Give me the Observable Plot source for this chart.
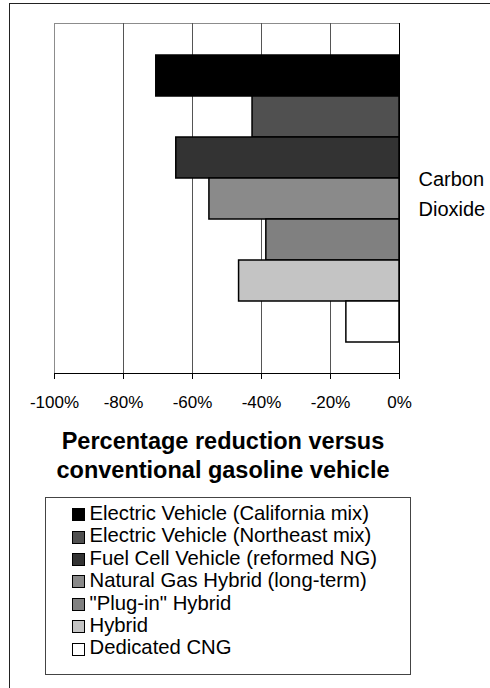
<!DOCTYPE html>
<html>
<head>
<meta charset="utf-8">
<script src="https://cdn.jsdelivr.net/npm/d3@7"></script>
<script src="https://cdn.jsdelivr.net/npm/@observablehq/plot@0.6"></script>
<style>
  html, body { margin: 0; padding: 0; background: #fff; overflow: hidden; width: 490px; height: 688px; }
  body { position: relative; font-family: "Liberation Sans", Arial, sans-serif; color: #000; }
  #outer { position: absolute; left: 9px; top: 3px; width: 520px; height: 720px; border-left: 1.5px solid #222; border-top: 1.5px solid #222; }
  #chart { position: absolute; left: 0; top: 0; }
  #title { position: absolute; left: 54px; width: 338px; top: 427px; text-align: center; font-weight: bold; font-size: 23.5px; line-height: 28.5px; }
  #legend { position: absolute; left: 45px; top: 497px; width: 364px; height: 172px; border: 1px solid #444; padding-top: 4px; box-sizing: content-box; }
  .row { display: flex; align-items: center; height: 22.4px; font-size: 20.3px; line-height: 22.4px; white-space: nowrap; }
  .sw { width: 11px; height: 11px; border: 1.5px solid #000; margin-left: 25.5px; margin-right: 5px; margin-top: 3px; flex: none; }
</style>
</head>
<body>
<div id="outer"></div>
<div id="chart"></div>
<div id="title">Percentage reduction versus<br>conventional gasoline vehicle</div>
<div id="legend"></div>
<script>
const category = "Carbon\nDioxide";
const vehicles = [
  "Electric Vehicle (California mix)",
  "Electric Vehicle (Northeast mix)",
  "Fuel Cell Vehicle (reformed NG)",
  "Natural Gas Hybrid (long-term)",
  "\"Plug-in\" Hybrid",
  "Hybrid",
  "Dedicated CNG"
];
const reductions = [-70.5, -42.6, -64.7, -55.1, -38.6, -46.5, -15.4];
const colors = ["#000000", "#505050", "#333333", "#8a8a8a", "#808080", "#c4c4c4", "#ffffff"];
const xTicks = [-100, -80, -60, -40, -20, 0];

const data = vehicles.map((v, i) => ({vehicle: v, value: reductions[i], color: colors[i]}));

const chart = Plot.plot({
  width: 490,
  height: 420,
  marginLeft: 54,
  marginRight: 91,
  marginTop: 23,
  marginBottom: 47,
  style: {fontFamily: "'Liberation Sans', Arial, sans-serif", fontSize: "17px", background: "transparent", overflow: "visible"},
  x: {domain: [-100, 0], ticks: xTicks, tickFormat: d => `${d}%`, label: null},
  y: {domain: vehicles, paddingInner: 0, paddingOuter: 0.74, axis: null, label: null},
  marks: [
    Plot.frame({stroke: "#8c8c8c"}),
    Plot.ruleX(xTicks.filter(d => d > -100 && d < 0), {stroke: "#555"}),
    Plot.barX(data, {y: "vehicle", x: "value", fill: "color", stroke: "#000", strokeWidth: 1.5}),
    Plot.ruleX([0], {stroke: "#000"}),
    Plot.frame({anchor: "bottom", stroke: "#000"}),
    Plot.axisX({ticks: xTicks, tickFormat: d => `${d}%`, tickSize: 6, tickPadding: 16, fontSize: 17, label: null}),
    Plot.text([category], {text: d => d, frameAnchor: "right", dx: 19, dy: -7, textAnchor: "start", fontSize: 20, lineHeight: 1.5})
  ]
});
document.getElementById("chart").appendChild(chart);

const legend = document.getElementById("legend");
vehicles.forEach((v, i) => {
  const row = document.createElement("div");
  row.className = "row";
  const sw = document.createElement("span");
  sw.className = "sw";
  sw.style.background = colors[i];
  const t = document.createElement("span");
  t.textContent = v;
  row.appendChild(sw);
  row.appendChild(t);
  legend.appendChild(row);
});
</script>
</body>
</html>
